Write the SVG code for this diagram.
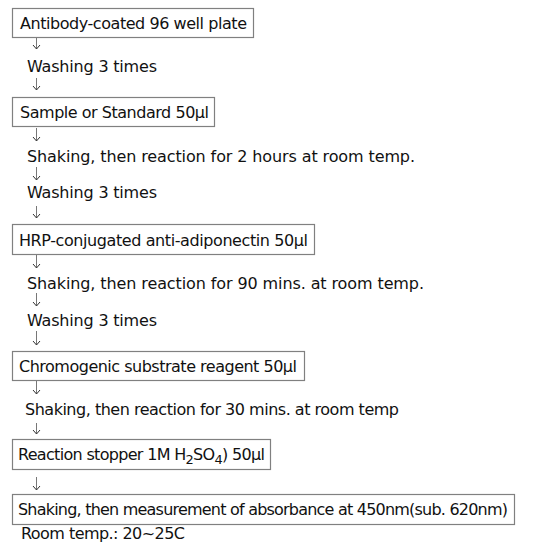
<svg xmlns="http://www.w3.org/2000/svg" width="548" height="551" viewBox="0 0 548 551">
<style>
.box{fill:#fff;stroke:#808080;stroke-width:1.2}
.t{font-family:"DejaVu Sans","Liberation Sans",Arial,sans-serif;font-size:16px;fill:#111}
.c{stroke:#777;stroke-width:1;fill:none}
</style>
<defs>
<marker id="ah" markerUnits="userSpaceOnUse" markerWidth="8" markerHeight="10" refX="4.5" refY="4" orient="auto" viewBox="0 0 8 10">
<path d="M0.5,0.5 L4.5,4 L0.5,7.5" fill="none" stroke="#333" stroke-width="1"/>
</marker>
</defs>
<rect width="548" height="551" fill="#fff"/>
<g id="connectors">
<line class="c" x1="36.5" y1="38" x2="36.5" y2="49" marker-end="url(#ah)"/>
<line class="c" x1="36.5" y1="78" x2="36.5" y2="90" marker-end="url(#ah)"/>
<line class="c" x1="36.5" y1="128" x2="36.5" y2="141" marker-end="url(#ah)"/>
<line class="c" x1="36.5" y1="167" x2="36.5" y2="180" marker-end="url(#ah)"/>
<line class="c" x1="36.5" y1="206" x2="36.5" y2="218" marker-end="url(#ah)"/>
<line class="c" x1="36.5" y1="255" x2="36.5" y2="268" marker-end="url(#ah)"/>
<line class="c" x1="36.5" y1="293" x2="36.5" y2="306" marker-end="url(#ah)"/>
<line class="c" x1="36.5" y1="331" x2="36.5" y2="345" marker-end="url(#ah)"/>
<line class="c" x1="36.5" y1="381" x2="36.5" y2="394" marker-end="url(#ah)"/>
<line class="c" x1="36.5" y1="423" x2="36.5" y2="434" marker-end="url(#ah)"/>
<line class="c" x1="36.5" y1="477" x2="36.5" y2="490" marker-end="url(#ah)"/>
</g>
<g id="n1"><rect class="box" x="12.5" y="8.5" width="241" height="29"/><text class="t" x="20" y="29" textLength="227">Antibody-coated 96 well plate</text></g>
<g id="s1"><text class="t" x="27" y="72" textLength="130">Washing 3 times</text></g>
<g id="n2"><rect class="box" x="12.5" y="97.5" width="202" height="29"/><text class="t" x="20" y="118" textLength="189">Sample or Standard 50µl</text></g>
<g id="s2"><text class="t" x="27" y="162" textLength="388">Shaking, then reaction for 2 hours at room temp.</text></g>
<g id="s3"><text class="t" x="27" y="198" textLength="130">Washing 3 times</text></g>
<g id="n3"><rect class="box" x="12.5" y="224.5" width="302" height="30"/><text class="t" x="19" y="246" textLength="289">HRP-conjugated anti-adiponectin 50µl</text></g>
<g id="s4"><text class="t" x="27" y="289" textLength="397">Shaking, then reaction for 90 mins. at room temp.</text></g>
<g id="s5"><text class="t" x="27" y="326" textLength="130">Washing 3 times</text></g>
<g id="n4"><rect class="box" x="12.5" y="351.5" width="292" height="29"/><text class="t" x="19" y="372" textLength="278">Chromogenic substrate reagent 50µl</text></g>
<g id="s6"><text class="t" x="25" y="415" textLength="374">Shaking, then reaction for 30 mins. at room temp</text></g>
<g id="n5"><rect class="box" x="12.5" y="439.5" width="258" height="30"/><text class="t" x="18" y="460" textLength="247">Reaction stopper 1M H<tspan font-size="13" dy="4">2</tspan><tspan dy="-4">SO</tspan><tspan font-size="13" dy="4">4</tspan><tspan dy="-4">) 50µl</tspan></text></g>
<g id="n6"><rect class="box" x="12.5" y="494.5" width="502" height="30"/><text class="t" x="18" y="515" textLength="490">Shaking, then measurement of absorbance at 450nm(sub. 620nm)</text></g>
<g id="note"><text class="t" x="21" y="539" textLength="164">Room temp.: 20~25C</text></g>
</svg>
